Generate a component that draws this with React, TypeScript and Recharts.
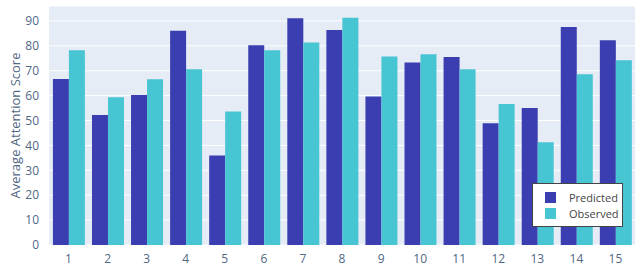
import { BarChart, Bar, XAxis, YAxis, CartesianGrid, Legend } from 'recharts';

// --- Attention score chart ---
const CATEGORIES = ['1', '2', '3', '4', '5', '6', '7', '8', '9', '10', '11', '12', '13', '14', '15'];
const PREDICTED = [66.7, 52.2, 60.3, 86.1, 36.0, 80.2, 91.1, 86.4, 59.6, 73.3, 75.5, 48.9, 55.0, 87.6, 82.2];
const OBSERVED = [78.2, 59.3, 66.6, 70.6, 53.6, 78.2, 81.3, 91.3, 75.7, 76.6, 70.6, 56.6, 41.3, 68.6, 74.2];
const Y_TICKS = [0, 10, 20, 30, 40, 50, 60, 70, 80, 90];

const PRED_COLOR = '#3a3eb1';
const OBS_COLOR = '#48c5d3';
const FONT = '"Open Sans", "Noto Sans", sans-serif';

const data = CATEGORIES.map((name, i) => ({ name, predicted: PREDICTED[i], observed: OBSERVED[i] }));

const LegendBox = () => (
    <div
        style={{
            position: 'absolute',
            left: 532,
            top: 183,
            width: 89,
            height: 42,
            background: '#fff',
            border: '1px solid #444',
            fontFamily: FONT,
            fontSize: 11,
            color: '#444',
        }}
    >
        {[
            { label: 'Predicted', color: PRED_COLOR },
            { label: 'Observed', color: OBS_COLOR },
        ].map((item, i) => (
            <div key={item.label} style={{ position: 'absolute', left: 12, top: 7 + i * 16, display: 'flex', alignItems: 'center' }}>
                <span style={{ width: 11, height: 11, background: item.color, display: 'inline-block' }} />
                <span style={{ marginLeft: 13, lineHeight: '13px' }}>{item.label}</span>
            </div>
        ))}
    </div>
);

export default function App() {
    return (
        <div style={{ position: 'absolute', left: 0, top: 0, width: 640, height: 266, background: '#fff' }}>
            <BarChart
                width={640}
                height={266}
                data={data}
                margin={{ top: 6, right: 5, left: 0, bottom: 0 }}
                barCategoryGap="10%"
                barGap={0}
            >
                <CartesianGrid fill="#e5ecf6" stroke="#fff" strokeWidth={1} vertical={false} />
                <XAxis
                    dataKey="name"
                    height={21}
                    axisLine={false}
                    tickLine={false}
                    tick={{ fill: '#506784', fontSize: 12, fontFamily: FONT }}
                    tickMargin={3}
                />
                <YAxis
                    width={49}
                    domain={[0, 96]}
                    ticks={Y_TICKS}
                    axisLine={false}
                    tickLine={false}
                    tick={{ fill: '#506784', fontSize: 12, fontFamily: FONT }}
                    tickMargin={4}
                    label={{
                        value: 'Average Attention Score',
                        angle: -90,
                        position: 'insideLeft',
                        offset: 15,
                        style: { textAnchor: 'middle', fill: '#506784', fontSize: 13, fontFamily: FONT },
                    }}
                />
                <Legend content={() => null} />
                <Bar dataKey="predicted" name="Predicted" fill={PRED_COLOR} isAnimationActive={false} />
                <Bar dataKey="observed" name="Observed" fill={OBS_COLOR} isAnimationActive={false} />
            </BarChart>
            <LegendBox />
        </div>
    );
}
